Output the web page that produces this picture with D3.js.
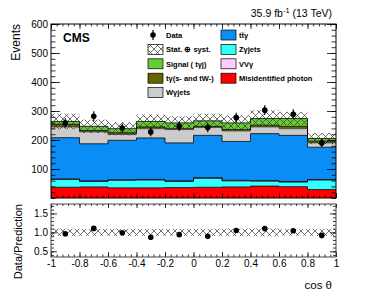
<!DOCTYPE html>
<html>
<head>
<meta charset="utf-8">
<script src="https://cdnjs.cloudflare.com/ajax/libs/d3/7.8.5/d3.min.js"></script>
<style>
  body { margin: 0; background: #fff; }
  svg { display: block; font-family: "Liberation Sans", Arial, Helvetica, sans-serif; }
</style>
</head>
<body>
<svg width="377" height="299"></svg>
<script>
// bin edges in cos(theta)
const binEdges = [-1, -0.8, -0.6, -0.4, -0.2, 0, 0.2, 0.4, 0.6, 0.8, 1];

// stacked backgrounds, bottom to top (events per bin)
const misidPhoton = [37, 38, 35, 35, 36, 37, 38, 41, 39, 29];
const zgJets      = [27, 19, 26, 27, 21, 31, 21, 17, 16, 33];
const vvg         = [2, 2, 2, 2, 2, 2, 2, 2, 2, 2];
const ttg         = [142, 128, 136, 143, 131, 146, 134, 162, 159, 111];
const wgJets      = [37, 41, 20, 32, 46, 27, 36, 23, 23, 15];
const tgOther     = [9, 5, 6, 6, 3, 4, 5, 6, 8, 6];
const signal      = [10, 14, 14, 19, 20, 19, 23, 23, 27, 9];

// stat+syst uncertainty on total prediction
const totalUnc = [27, 23, 23, 24, 23, 25, 26, 29, 23, 19];

// observed data
const dataVals = [259, 282, 241, 228, 247, 243, 277, 303, 289, 190];
const dataErr  = [16, 17, 16, 15, 16, 16, 17, 17, 17, 14];

// ratio panel
const ratioVals = [0.965, 1.105, 0.99, 0.87, 0.94, 0.895, 1.05, 1.10, 1.045, 0.92];
const ratioUnc  = [0.1, 0.09, 0.095, 0.09, 0.09, 0.095, 0.1, 0.105, 0.085, 0.095];

const mainTicks  = [100, 200, 300, 400, 500, 600];
const ratioTicks = [0.5, 1, 1.5];
const xTicks     = [-1, -0.8, -0.6, -0.4, -0.2, 0, 0.2, 0.4, 0.6, 0.8, 1];

const layers = [
  { key: "misid",  vals: misidPhoton, color: "#ff0000", label: "Misidentified photon" },
  { key: "zg",     vals: zgJets,      color: "#33ffff", label: "Z\u03b3jets" },
  { key: "vvg",    vals: vvg,         color: "#ffccff", label: "VV\u03b3" },
  { key: "ttg",    vals: ttg,         color: "#0a8ef5", label: "tt\u0305\u03b3" },
  { key: "wg",     vals: wgJets,      color: "#cccccc", label: "W\u03b3jets" },
  { key: "tg",     vals: tgOther,     color: "#666600", label: "t\u03b3(s- and tW-)" },
  { key: "sig",    vals: signal,      color: "#66cc33", label: "Signal ( t\u03b3j)" }
];

const svg = d3.select("svg");
const left = 51, right = 336;
const mainTop = 24, mainBot = 198;
const ratTop = 204, ratBot = 257;

const x = d3.scaleLinear().domain([-1, 1]).range([left, right]);
const y = d3.scaleLinear().domain([0, 600]).range([mainBot, mainTop]);
const yr = d3.scaleLinear().domain([0.35, 1.75]).range([ratBot, ratTop]);

const defs = svg.append("defs");
const pat = defs.append("pattern")
  .attr("id", "hatch")
  .attr("patternUnits", "userSpaceOnUse")
  .attr("width", 7).attr("height", 7);
pat.append("path")
  .attr("d", "M0,0L7,7M0,7L7,0")
  .attr("stroke", "#333")
  .attr("stroke-width", 0.7)
  .attr("fill", "none");

// stack
const bins = d3.range(10).map(i => {
  const row = { i: i, x0: binEdges[i], x1: binEdges[i + 1] };
  layers.forEach(l => row[l.key] = l.vals[i]);
  return row;
});
const stack = d3.stack().keys(layers.map(l => l.key));
const series = stack(bins);

const stepPts = s => s.flatMap(d => [
  { x: d.data.x0, y0: d[0], y1: d[1] },
  { x: d.data.x1, y0: d[0], y1: d[1] }
]);

const area = d3.area()
  .x(d => x(d.x)).y0(d => y(d.y0)).y1(d => y(d.y1));
const topLine = d3.line()
  .x(d => x(d.x)).y(d => y(d.y1));

const gMain = svg.append("g");
series.forEach((s, k) => {
  gMain.append("path")
    .attr("d", area(stepPts(s)))
    .attr("fill", layers[k].color);
});
series.forEach((s, k) => {
  gMain.append("path")
    .attr("d", topLine(stepPts(s)))
    .attr("fill", "none")
    .attr("stroke", k === 4 ? "#444" : "#000")
    .attr("stroke-width", 0.8);
});

// uncertainty band
const totals = series[series.length - 1].map(d => d[1]);
gMain.selectAll("rect.unc")
  .data(bins)
  .enter().append("rect")
  .attr("class", "unc")
  .attr("x", d => x(d.x0))
  .attr("width", d => x(d.x1) - x(d.x0))
  .attr("y", d => y(totals[d.i] + totalUnc[d.i]))
  .attr("height", d => y(totals[d.i] - totalUnc[d.i]) - y(totals[d.i] + totalUnc[d.i]))
  .attr("fill", "url(#hatch)");

// data points
const mid = d => (d.x0 + d.x1) / 2;
gMain.selectAll("line.err")
  .data(bins)
  .enter().append("line")
  .attr("x1", d => x(mid(d))).attr("x2", d => x(mid(d)))
  .attr("y1", d => y(dataVals[d.i] - dataErr[d.i]))
  .attr("y2", d => y(dataVals[d.i] + dataErr[d.i]))
  .attr("stroke", "#000").attr("stroke-width", 1.2);
gMain.selectAll("circle.data")
  .data(bins)
  .enter().append("circle")
  .attr("cx", d => x(mid(d)))
  .attr("cy", d => y(dataVals[d.i]))
  .attr("r", 2.8)
  .attr("fill", "#000");

// main frame + axes
const fmtX = d => String(+d.toFixed(1));
const addAxis = (g, axis, tr) => {
  const a = g.append("g").attr("transform", tr).call(axis);
  a.select(".domain").remove();
  a.selectAll("line").attr("stroke", "#000").attr("stroke-width", 0.8);
  a.selectAll("text").attr("fill", "#000").attr("font-size", 10);
  return a;
};
const minorX = d3.range(-1, 1.0001, 0.04);
const minorY = d3.range(0, 600.1, 20);

addAxis(svg, d3.axisLeft(y).tickValues(minorY).tickSize(-4.5).tickFormat(""), `translate(${left},0)`);
addAxis(svg, d3.axisLeft(y).tickValues(mainTicks).tickSize(-9).tickPadding(3), `translate(${left},0)`);
addAxis(svg, d3.axisRight(y).tickValues(minorY).tickSize(-4.5).tickFormat(""), `translate(${right},0)`);
addAxis(svg, d3.axisRight(y).tickValues(mainTicks).tickSize(-9).tickFormat(""), `translate(${right},0)`);
addAxis(svg, d3.axisTop(x).tickValues(minorX).tickSize(-2.5).tickFormat(""), `translate(0,${mainTop})`);
addAxis(svg, d3.axisTop(x).tickValues(xTicks).tickSize(-5).tickFormat(""), `translate(0,${mainTop})`);
addAxis(svg, d3.axisBottom(x).tickValues(minorX).tickSize(-2.5).tickFormat(""), `translate(0,${mainBot})`);
addAxis(svg, d3.axisBottom(x).tickValues(xTicks).tickSize(-5).tickFormat(""), `translate(0,${mainBot})`);

svg.append("rect")
  .attr("x", left).attr("y", mainTop)
  .attr("width", right - left).attr("height", mainBot - mainTop)
  .attr("fill", "none").attr("stroke", "#000").attr("stroke-width", 1);

// ratio panel
const gRat = svg.append("g");
gRat.selectAll("rect.runc")
  .data(bins)
  .enter().append("rect")
  .attr("x", d => x(d.x0))
  .attr("width", d => x(d.x1) - x(d.x0))
  .attr("y", d => yr(1 + ratioUnc[d.i]))
  .attr("height", d => yr(1 - ratioUnc[d.i]) - yr(1 + ratioUnc[d.i]))
  .attr("fill", "url(#hatch)");
gRat.selectAll("circle.r")
  .data(bins)
  .enter().append("circle")
  .attr("cx", d => x(mid(d)))
  .attr("cy", d => yr(ratioVals[d.i]))
  .attr("r", 2.8)
  .attr("fill", "#000");

const minorR = d3.range(0.4, 1.75, 0.1);
addAxis(svg, d3.axisLeft(yr).tickValues(minorR).tickSize(-3).tickFormat(""), `translate(${left},0)`);
addAxis(svg, d3.axisLeft(yr).tickValues(ratioTicks).tickSize(-6).tickPadding(3), `translate(${left},0)`);
addAxis(svg, d3.axisRight(yr).tickValues(minorR).tickSize(-3).tickFormat(""), `translate(${right},0)`);
addAxis(svg, d3.axisRight(yr).tickValues(ratioTicks).tickSize(-6).tickFormat(""), `translate(${right},0)`);
addAxis(svg, d3.axisTop(x).tickValues(minorX).tickSize(-2).tickFormat(""), `translate(0,${ratTop})`);
addAxis(svg, d3.axisTop(x).tickValues(xTicks).tickSize(-4).tickFormat(""), `translate(0,${ratTop})`);
addAxis(svg, d3.axisBottom(x).tickValues(minorX).tickSize(-2.5).tickFormat(""), `translate(0,${ratBot})`);
addAxis(svg, d3.axisBottom(x).tickValues(xTicks).tickSize(-5).tickPadding(3).tickFormat(fmtX), `translate(0,${ratBot})`);

svg.append("rect")
  .attr("x", left).attr("y", ratTop)
  .attr("width", right - left).attr("height", ratBot - ratTop)
  .attr("fill", "none").attr("stroke", "#444").attr("stroke-width", 1);

// legend
const leg = svg.append("g").attr("font-size", 7.5).attr("font-weight", "bold");
const rowY = i => 35 + i * 14.4;
const leftCol = [
  { label: "Data", type: "data" },
  { label: "Stat. \u2295 syst.", type: "hatch" },
  layers[6], layers[5], layers[4]
];
const rightCol = [layers[3], layers[1], layers[2], layers[0]];

leftCol.forEach((d, i) => {
  const cy = rowY(i);
  if (d.type === "data") {
    leg.append("line").attr("x1", 153).attr("x2", 153)
      .attr("y1", cy - 5).attr("y2", cy + 5)
      .attr("stroke", "#000").attr("stroke-width", 1.2);
    leg.append("circle").attr("cx", 153).attr("cy", cy).attr("r", 2.8).attr("fill", "#000");
  } else {
    leg.append("rect").attr("x", 148).attr("y", cy - 5)
      .attr("width", 15).attr("height", 10)
      .attr("fill", d.type === "hatch" ? "url(#hatch)" : d.color)
      .attr("stroke", "#000").attr("stroke-width", 0.7);
  }
  leg.append("text").attr("x", 166).attr("y", cy + 2.8).text(d.label);
});
rightCol.forEach((d, i) => {
  const cy = rowY(i);
  leg.append("rect").attr("x", 221).attr("y", cy - 5)
    .attr("width", 15).attr("height", 10)
    .attr("fill", d.color)
    .attr("stroke", "#000").attr("stroke-width", 0.7);
  leg.append("text").attr("x", 239).attr("y", cy + 2.8).text(d.label);
});

// labels
svg.append("text")
  .attr("x", 63).attr("y", 42)
  .attr("font-size", 12).attr("font-weight", "bold")
  .text("CMS");

const lumi = svg.append("text")
  .attr("x", 332).attr("y", 17)
  .attr("text-anchor", "end")
  .attr("font-size", 10.5);
lumi.append("tspan").text("35.9 fb");
lumi.append("tspan").attr("dy", -4).attr("font-size", 7.5).text("-1");
lumi.append("tspan").attr("dy", 4).text(" (13 TeV)");

svg.append("text")
  .attr("transform", "translate(20,24) rotate(-90)")
  .attr("text-anchor", "end")
  .attr("font-size", 12)
  .text("Events");

svg.append("text")
  .attr("transform", "translate(22,204) rotate(-90)")
  .attr("text-anchor", "end")
  .attr("font-size", 11)
  .text("Data/Prediction");

svg.append("text")
  .attr("x", 332).attr("y", 289)
  .attr("text-anchor", "end")
  .attr("font-size", 11.5)
  .text("cos \u03b8");
</script>
</body>
</html>
